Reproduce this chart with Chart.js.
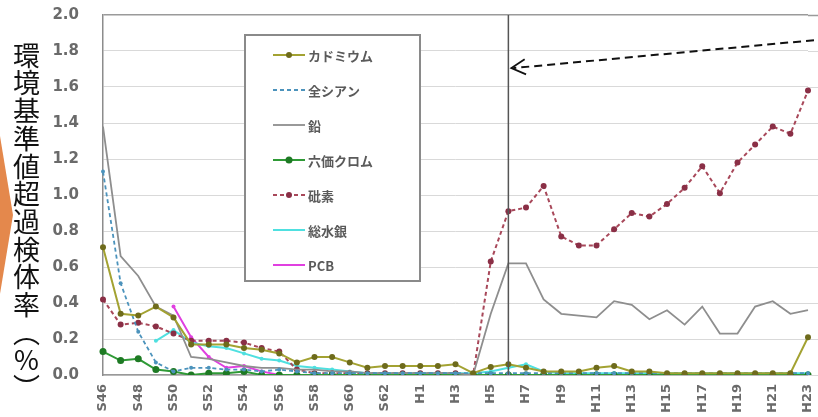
<!DOCTYPE html>
<html><head><meta charset="utf-8">
<script src="https://cdn.jsdelivr.net/npm/chart.js@4/dist/chart.umd.min.js"></script>
<style>
html,body{margin:0;padding:0;background:#fff;overflow:hidden}
#wrap{position:relative;width:818px;height:417px}
canvas{position:absolute;left:0;top:0}
#ytitle{position:absolute;left:13px;top:42px;writing-mode:vertical-rl;text-orientation:upright;font-family:"Noto Sans CJK JP";font-size:27px;letter-spacing:1px;line-height:27px;color:#111;white-space:nowrap}
#orange{position:absolute;left:0;top:136px;width:13px;height:158px;background:#E4884C;clip-path:polygon(0 0,100% 50%,0 100%)}
</style></head>
<body><div id="wrap"><div id="orange"></div><canvas id="c" width="818" height="417"></canvas><div id="ytitle">環境基準値超過検体率（%）</div></div>
<script>
const labels = ['S46','S47','S48','S49','S50','S51','S52','S53','S54','S55','S56','S57','S58','S59','S60','S61','S62','S63',
 'H1','H2','H3','H4','H5','H6','H7','H8','H9','H10','H11','H12','H13','H14','H15','H16','H17','H18','H19','H20','H21','H22','H23'];

const cadmium = [0.71,0.34,0.33,0.38,0.32,0.17,0.17,0.17,0.15,0.14,0.12,0.07,0.10,0.10,0.07,0.04,0.05,0.05,
 0.05,0.05,0.06,0.01,0.045,0.06,0.04,0.02,0.02,0.02,0.04,0.05,0.02,0.02,0.01,0.01,0.01,0.01,0.01,0.01,0.01,0.01,0.21];
const cyanide = [1.13,0.51,0.24,0.07,0.02,0.04,0.04,0.03,0.03,0.02,0.03,0.02,0.01,0.01,0.01,0.01,0.01,0.01,
 0.01,0.01,0.01,0.01,0.01,0.01,0.01,0.01,0.01,0.01,0.01,0.01,0.01,0.01,0.01,0.01,0.01,0.01,0.01,0.01,0.01,0.01,0.01];
const lead = [1.38,0.66,0.55,0.38,0.33,0.10,0.09,0.07,0.05,0.04,0.04,0.03,0.03,0.02,0.02,0.01,0.01,0.01,
 0.01,0.01,0.01,0.0,0.34,0.62,0.62,0.42,0.34,0.33,0.32,0.41,0.39,0.31,0.36,0.28,0.38,0.23,0.23,0.38,0.41,0.34,0.36];
const chromium = [0.13,0.08,0.09,0.03,0.02,0.0,0.01,0.01,0.02,0.0,0.0,0.0,0.0,0.0,0.0,0.0,0.0,0.0,
 0.0,0.0,0.0,0.0,0.0,0.0,0.0,0.0,0.0,0.0,0.0,0.0,0.0,0.0,0.0,0.0,0.0,0.0,0.0,0.0,0.0,0.0,0.0];
const arsenic = [0.42,0.28,0.29,0.27,0.23,0.19,0.19,0.19,0.18,0.15,0.13,0.03,0.01,0.01,0.01,0.01,0.01,0.01,
 0.01,0.01,0.01,0.0,0.63,0.91,0.93,1.05,0.77,0.72,0.72,0.81,0.90,0.88,0.95,1.04,1.16,1.01,1.18,1.28,1.38,1.34,1.58];
const mercury = [null,null,null,0.19,0.25,0.18,0.16,0.15,0.12,0.09,0.08,0.05,0.04,0.03,0.02,0.01,0.01,0.01,
 0.01,0.01,0.01,0.01,0.02,0.04,0.06,0.02,0.01,0.01,0.01,0.01,0.01,0.01,0.01,0.01,0.01,0.01,0.01,0.01,0.01,0.01,0.01];
const pcb = [null,null,null,null,0.38,0.21,0.10,0.04,0.05,0.02,0.0,0.0,0.0,0.0,0.0,0.0,0.0,0.0,
 0.0,0.0,0.0,0.0,0.0,0.0,0.0,0.0,0.0,0.0,0.0,0.0,0.0,0.0,0.0,0.0,0.0,0.0,0.0,0.0,0.0,0.0,0.0];

const seriesNames = ['カドミウム','全シアン','鉛','六価クロム','砒素','総水銀','PCB'];
const yTicks = {min:0, max:2.0, step:0.2};
const markerLabel = 'H6';
const arrowTipValue = 1.705;
const arrowTailValue = 1.86;

const styles = [
 {c:'#A3A232', p:'#6E6B1C', r:3, w:2, dash:[]},
 {c:'#4C93BC', p:'#4C93BC', r:2, w:1.8, dash:[4,3]},
 {c:'#8E8E8E', p:'#8E8E8E', r:0, w:1.8, dash:[]},
 {c:'#2F9A36', p:'#1E7A24', r:3.5, w:2, dash:[]},
 {c:'#A8485A', p:'#8A2F46', r:3, w:2, dash:[4,3]},
 {c:'#4FE0E0', p:'#4FE0E0', r:2, w:2, dash:[]},
 {c:'#E040E0', p:'#E040E0', r:2, w:2, dash:[]}
];
const values = [cadmium, cyanide, lead, chromium, arsenic, mercury, pcb];

const datasets = values.map((d,i)=>({
 label: seriesNames[i], data: d,
 borderColor: styles[i].c, backgroundColor: styles[i].p,
 pointBackgroundColor: styles[i].p, pointBorderColor: styles[i].p,
 pointRadius: styles[i].r, pointBorderWidth: 0, borderWidth: styles[i].w,
 borderDash: styles[i].dash, tension: 0, spanGaps: false, fill:false
}));

const extendGrid = {
 id:'extendGrid',
 beforeDatasetsDraw(chart){
  const {ctx, chartArea:ca, scales:{y}} = chart;
  ctx.save();
  y.ticks.forEach(t=>{
   const py = Math.round(y.getPixelForValue(t.value))+0.5;
   ctx.strokeStyle = t.value >= yTicks.max ? '#9a9a9a' : '#d9d9d9';
   ctx.lineWidth = t.value >= yTicks.max ? 1.5 : 1;
   ctx.beginPath(); ctx.moveTo(ca.right, py); ctx.lineTo(chart.width, py); ctx.stroke();
  });
  ctx.restore();
 }
};

const annot = {
 id:'annot',
 afterDatasetsDraw(chart){
  const {ctx, chartArea:ca, scales:{x,y}} = chart;
  const x6 = x.getPixelForValue(labels.indexOf(markerLabel));
  ctx.save();
  ctx.strokeStyle='#555'; ctx.lineWidth=1.5;
  ctx.beginPath(); ctx.moveTo(x6, ca.top); ctx.lineTo(x6, ca.bottom); ctx.stroke();
  const ax = x6+3, ay = y.getPixelForValue(arrowTipValue);
  const bx = chart.width-4, by = y.getPixelForValue(arrowTailValue);
  ctx.strokeStyle='#111'; ctx.lineWidth=2; ctx.setLineDash([8,5]);
  ctx.beginPath(); ctx.moveTo(bx,by); ctx.lineTo(ax+2,ay); ctx.stroke();
  ctx.setLineDash([]); ctx.lineWidth=1.8;
  const ang = Math.atan2(by-ay, bx-ax);
  const L=16, s=0.5;
  ctx.beginPath();
  ctx.moveTo(ax+L*Math.cos(ang-s), ay+L*Math.sin(ang-s));
  ctx.lineTo(ax,ay);
  ctx.lineTo(ax+L*Math.cos(ang+s), ay+L*Math.sin(ang+s));
  ctx.stroke();
  ctx.restore();
 }
};

const legendBox = {
 id:'legendBox',
 afterDraw(chart){
  const ctx = chart.ctx;
  const bx=245, by=35, bw=175, bh=246, rowY=55, step=35, lx0=273, lx1=305, tx=308;
  ctx.save();
  ctx.fillStyle='#fff'; ctx.fillRect(bx,by,bw,bh);
  ctx.strokeStyle='#8a8a8a'; ctx.lineWidth=2; ctx.strokeRect(bx,by,bw,bh);
  chart.data.datasets.forEach((ds,i)=>{
   const yy = rowY + i*step;
   ctx.strokeStyle = ds.borderColor; ctx.lineWidth = ds.borderWidth;
   ctx.setLineDash(ds.borderDash);
   ctx.beginPath(); ctx.moveTo(lx0,yy); ctx.lineTo(lx1,yy); ctx.stroke();
   ctx.setLineDash([]);
   if(ds.pointRadius>=3){
    ctx.fillStyle = ds.pointBackgroundColor;
    ctx.beginPath(); ctx.arc((lx0+lx1)/2, yy, ds.pointRadius, 0, Math.PI*2); ctx.fill();
   }
   ctx.fillStyle='#5a5a5a'; ctx.font='bold 13px "Noto Sans CJK JP"'; ctx.textBaseline='middle'; ctx.textAlign='left';
   ctx.fillText(ds.label, tx, yy+1);
  });
  ctx.restore();
 }
};

new Chart(document.getElementById('c'), {
 type:'line',
 data:{labels, datasets},
 plugins:[extendGrid, annot, legendBox],
 options:{
  responsive:false, animation:false,
  layout:{padding:{top:15,right:10,left:0,bottom:0}},
  plugins:{legend:{display:false}, tooltip:{enabled:false}},
  scales:{
   x:{
    grid:{display:false, drawTicks:false},
    border:{display:true, color:'#999', width:1.5},
    ticks:{autoSkip:false, maxRotation:90, minRotation:90, padding:9,
      color:'#6a6a6a', font:{family:'DejaVu Sans', size:13, weight:'bold'},
      callback:(v,i)=> i%2===0 ? labels[i] : ''},
    afterFit:(s)=>{ s.height = 42; s.paddingLeft = 0; s.paddingRight = 0; }
   },
   y:{
    min:yTicks.min, max:yTicks.max,
    grid:{drawTicks:false, color:(c)=> c.tick && c.tick.value>=yTicks.max ? '#9a9a9a' : '#d9d9d9',
          lineWidth:(c)=> c.tick && c.tick.value>=yTicks.max ? 1.5 : 1},
    border:{display:true, color:'#8c8c8c', width:1.5},
    ticks:{stepSize:yTicks.step, padding:24, color:'#6a6a6a',
      font:{family:'DejaVu Sans', size:15, weight:'bold'},
      callback:(v)=> Number(v).toFixed(1)},
    afterFit:(s)=>{ s.width = 103; s.paddingTop = 0; s.paddingBottom = 0; }
   }
  }
 }
});

// fit the vertical title to its span (環 top ≈ 42px, ） bottom ≈ 402px)
(function(){
 const el = document.getElementById('ytitle');
 const n = el.textContent.length;
 const target = 360;
 const h = el.getBoundingClientRect().height;
 const ls = 1 + (target - h) / n;
 el.style.letterSpacing = ls.toFixed(2) + 'px';
})();
</script>
</body></html>
